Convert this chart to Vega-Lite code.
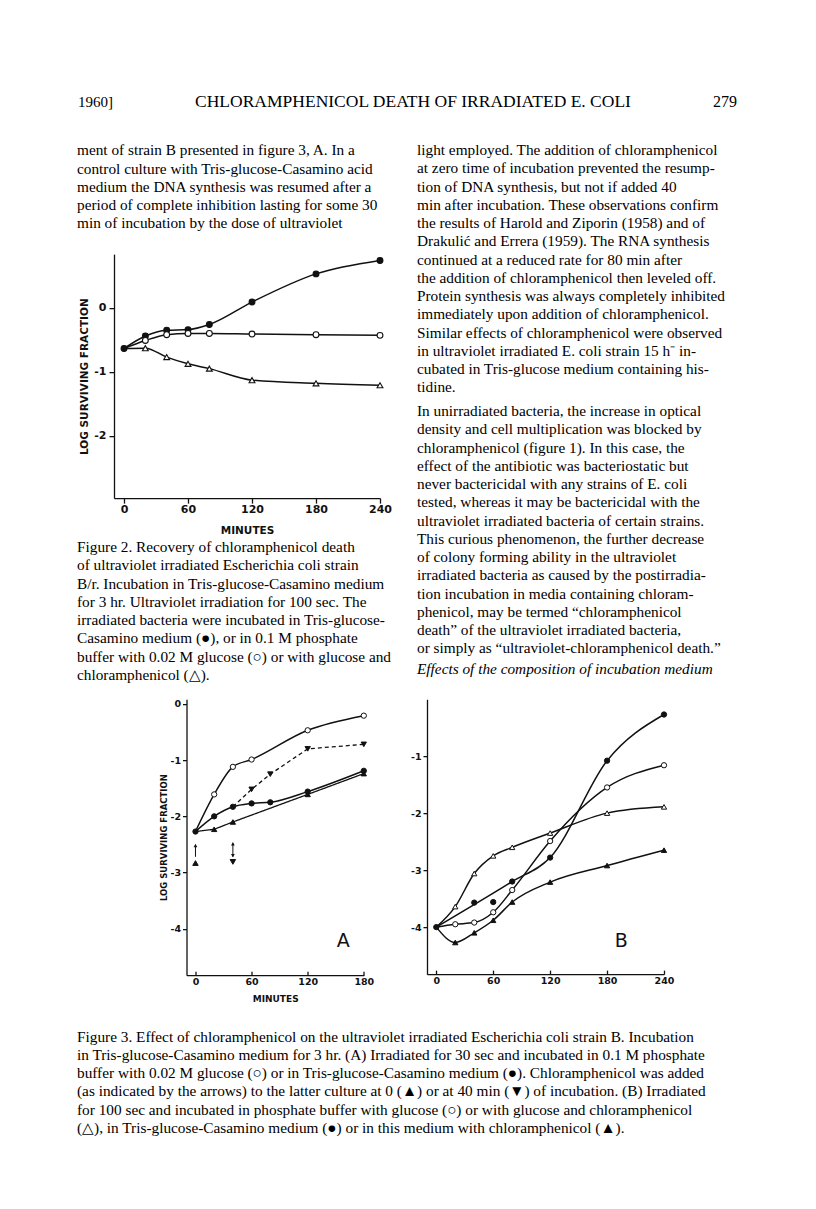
{
  "$schema": "https://vega.github.io/schema/vega-lite/v6.json",
  "background": "white",
  "padding": {"left": 77, "top": 63.125, "right": 0, "bottom": 0},
  "config": {
    "view": {"stroke": null},
    "axis": {"grid": false, "domainColor": "#111", "tickColor": "#111", "labelColor": "#111", "titleColor": "#111", "labelFont": "DejaVu Sans", "titleFont": "DejaVu Sans", "labelFontWeight": "bold", "titleFontWeight": "bold", "domainWidth": 1.3, "tickWidth": 1.3, "labelFlush": false, "labelOverlap": false}
  },
  "datasets": {
    "fig2": [
      {"series": "Tris-glucose-Casamino medium", "t": 0, "v": -0.635},
      {"series": "Tris-glucose-Casamino medium", "t": 20, "v": -0.44},
      {"series": "Tris-glucose-Casamino medium", "t": 40, "v": -0.35},
      {"series": "Tris-glucose-Casamino medium", "t": 60, "v": -0.34},
      {"series": "Tris-glucose-Casamino medium", "t": 80, "v": -0.26},
      {"series": "Tris-glucose-Casamino medium", "t": 120, "v": 0.09},
      {"series": "Tris-glucose-Casamino medium", "t": 180, "v": 0.53},
      {"series": "Tris-glucose-Casamino medium", "t": 240, "v": 0.74},
      {"series": "Phosphate buffer + glucose", "t": 0, "v": -0.635},
      {"series": "Phosphate buffer + glucose", "t": 20, "v": -0.51},
      {"series": "Phosphate buffer + glucose", "t": 40, "v": -0.42},
      {"series": "Phosphate buffer + glucose", "t": 60, "v": -0.4},
      {"series": "Phosphate buffer + glucose", "t": 80, "v": -0.4},
      {"series": "Phosphate buffer + glucose", "t": 120, "v": -0.41},
      {"series": "Phosphate buffer + glucose", "t": 180, "v": -0.42},
      {"series": "Phosphate buffer + glucose", "t": 240, "v": -0.43},
      {"series": "Glucose + chloramphenicol", "t": 0, "v": -0.635},
      {"series": "Glucose + chloramphenicol", "t": 20, "v": -0.63},
      {"series": "Glucose + chloramphenicol", "t": 40, "v": -0.77},
      {"series": "Glucose + chloramphenicol", "t": 60, "v": -0.875},
      {"series": "Glucose + chloramphenicol", "t": 80, "v": -0.95},
      {"series": "Glucose + chloramphenicol", "t": 120, "v": -1.13},
      {"series": "Glucose + chloramphenicol", "t": 180, "v": -1.18},
      {"series": "Glucose + chloramphenicol", "t": 240, "v": -1.21}
    ],
    "fig3a": [
      {"series": "Phosphate buffer + glucose", "t": 0, "v": -2.27},
      {"series": "Phosphate buffer + glucose", "t": 20, "v": -1.61},
      {"series": "Phosphate buffer + glucose", "t": 40, "v": -1.12},
      {"series": "Phosphate buffer + glucose", "t": 60, "v": -0.99},
      {"series": "Phosphate buffer + glucose", "t": 120, "v": -0.47},
      {"series": "Phosphate buffer + glucose", "t": 180, "v": -0.21},
      {"series": "Tris-glucose-Casamino medium", "t": 0, "v": -2.27},
      {"series": "Tris-glucose-Casamino medium", "t": 20, "v": -2.0},
      {"series": "Tris-glucose-Casamino medium", "t": 40, "v": -1.83},
      {"series": "Tris-glucose-Casamino medium", "t": 60, "v": -1.77},
      {"series": "Tris-glucose-Casamino medium", "t": 80, "v": -1.75},
      {"series": "Tris-glucose-Casamino medium", "t": 120, "v": -1.56},
      {"series": "Tris-glucose-Casamino medium", "t": 180, "v": -1.19},
      {"series": "Chloramphenicol at 0 min", "t": 0, "v": -2.27},
      {"series": "Chloramphenicol at 0 min", "t": 20, "v": -2.23},
      {"series": "Chloramphenicol at 0 min", "t": 40, "v": -2.1},
      {"series": "Chloramphenicol at 0 min", "t": 120, "v": -1.61},
      {"series": "Chloramphenicol at 0 min", "t": 180, "v": -1.24},
      {"series": "Chloramphenicol at 40 min", "t": 40, "v": -1.83},
      {"series": "Chloramphenicol at 40 min", "t": 60, "v": -1.52},
      {"series": "Chloramphenicol at 40 min", "t": 80, "v": -1.25},
      {"series": "Chloramphenicol at 40 min", "t": 120, "v": -0.8},
      {"series": "Chloramphenicol at 40 min", "t": 180, "v": -0.72}
    ],
    "adds3a": [
      {"series": "Chloramphenicol at 0 min", "t": 0, "v": -2.83},
      {"series": "Chloramphenicol at 40 min", "t": 40, "v": -2.81}
    ],
    "arrows3a": [
      {"t": 0, "v": -2.5, "v2": -2.72},
      {"t": 40, "v": -2.47, "v2": -2.72}
    ],
    "heads3a": [
      {"t": 0, "v": -2.52, "dir": "up"},
      {"t": 40, "v": -2.49, "dir": "up"},
      {"t": 40, "v": -2.7, "dir": "down"}
    ],
    "fig3b": [
      {"series": "Phosphate buffer + glucose", "t": 0, "v": -4.0},
      {"series": "Phosphate buffer + glucose", "t": 20, "v": -3.95},
      {"series": "Phosphate buffer + glucose", "t": 40, "v": -3.92},
      {"series": "Phosphate buffer + glucose", "t": 60, "v": -3.74},
      {"series": "Phosphate buffer + glucose", "t": 80, "v": -3.35},
      {"series": "Phosphate buffer + glucose", "t": 120, "v": -2.49},
      {"series": "Phosphate buffer + glucose", "t": 180, "v": -1.55},
      {"series": "Phosphate buffer + glucose", "t": 240, "v": -1.16},
      {"series": "Glucose + chloramphenicol", "t": 0, "v": -4.0},
      {"series": "Glucose + chloramphenicol", "t": 20, "v": -3.64},
      {"series": "Glucose + chloramphenicol", "t": 40, "v": -3.06},
      {"series": "Glucose + chloramphenicol", "t": 60, "v": -2.75},
      {"series": "Glucose + chloramphenicol", "t": 80, "v": -2.6},
      {"series": "Glucose + chloramphenicol", "t": 120, "v": -2.35},
      {"series": "Glucose + chloramphenicol", "t": 180, "v": -2.0},
      {"series": "Glucose + chloramphenicol", "t": 240, "v": -1.89},
      {"series": "Tris-glucose-Casamino medium", "t": 0, "v": -4.0},
      {"series": "Tris-glucose-Casamino medium", "t": 40, "v": -3.57},
      {"series": "Tris-glucose-Casamino medium", "t": 60, "v": -3.56},
      {"series": "Tris-glucose-Casamino medium", "t": 80, "v": -3.2},
      {"series": "Tris-glucose-Casamino medium", "t": 120, "v": -2.78},
      {"series": "Tris-glucose-Casamino medium", "t": 180, "v": -1.08},
      {"series": "Tris-glucose-Casamino medium", "t": 240, "v": -0.27},
      {"series": "Tris-glucose-Casamino + chloramphenicol", "t": 0, "v": -4.0},
      {"series": "Tris-glucose-Casamino + chloramphenicol", "t": 20, "v": -4.27},
      {"series": "Tris-glucose-Casamino + chloramphenicol", "t": 40, "v": -4.1},
      {"series": "Tris-glucose-Casamino + chloramphenicol", "t": 60, "v": -3.88},
      {"series": "Tris-glucose-Casamino + chloramphenicol", "t": 80, "v": -3.56},
      {"series": "Tris-glucose-Casamino + chloramphenicol", "t": 120, "v": -3.21},
      {"series": "Tris-glucose-Casamino + chloramphenicol", "t": 180, "v": -2.92},
      {"series": "Tris-glucose-Casamino + chloramphenicol", "t": 240, "v": -2.65}
    ]
  },
  "spacing": 0,
  "vconcat": [
    {
      "spacing": 0,
      "hconcat": [
        {"width": 37, "height": 77.75, "data": {"values": [{"text": "1960]"}]}, "mark": {"type": "text", "font": "Liberation Serif", "fontSize": 15, "color": "#000"}, "encoding": {"text": {"field": "text"}}},
        {"width": 598, "height": 77.75, "data": {"values": [{"text": "CHLORAMPHENICOL DEATH OF IRRADIATED E. COLI"}]}, "mark": {"type": "text", "font": "Liberation Serif", "fontSize": 17.5, "color": "#000"}, "encoding": {"text": {"field": "text"}}},
        {"width": 26, "height": 77.75, "data": {"values": [{"text": "279"}]}, "mark": {"type": "text", "font": "Liberation Serif", "fontSize": 16, "color": "#000"}, "encoding": {"text": {"field": "text"}}}
      ]
    },
    {
      "spacing": 20,
      "hconcat": [
        {
          "spacing": 0,
          "vconcat": [
            {
              "width": 320, "height": 112.125,
              "data": {"values": [
                {"line": 1, "text": "ment of strain B presented in figure 3, A. In a"},
                {"line": 2, "text": "control culture with Tris-glucose-Casamino acid"},
                {"line": 3, "text": "medium the DNA synthesis was resumed after a"},
                {"line": 4, "text": "period of complete inhibition lasting for some 30"},
                {"line": 5, "text": "min of incubation by the dose of ultraviolet"}
              ]},
              "mark": {"type": "text", "align": "left", "baseline": "middle", "font": "Liberation Serif", "fontSize": 15.3, "color": "#000"},
              "encoding": {
                "x": {"datum": 0, "type": "quantitative", "scale": {"domain": [0, 1]}, "axis": null},
                "y": {"field": "line", "type": "quantitative", "scale": {"domain": [0.5, 6.6438], "reverse": true, "nice": false, "zero": false}, "axis": null},
                "text": {"field": "text"}
              }
            },
            {
              "spacing": 1,
              "hconcat": [
                {"width": 1, "height": 10, "data": {"values": []}, "mark": "text", "encoding": {}},
                {
                  "width": 266, "height": 244,
                  "encoding": {
                    "x": {"field": "t", "type": "quantitative", "scale": {"domain": [-9.4, 240], "nice": false, "zero": false}, "axis": {"values": [0, 60, 120, 180, 240], "title": "MINUTES", "tickSize": 5, "labelPadding": 0, "labelFontSize": 11, "titleFontSize": 10.5, "titlePadding": 11}},
                    "y": {"field": "v", "type": "quantitative", "scale": {"domain": [-2.973, 0.839], "nice": false, "zero": false}, "axis": {"values": [0, -1, -2], "title": "LOG SURVIVING FRACTION", "tickSize": 5, "labelPadding": 3, "labelFontSize": 11, "titleFontSize": 10.5, "titlePadding": 4, "labelExpr": "'' + datum.value"}}
                  },
                  "layer": [
                    {"data": {"name": "fig2"}, "mark": {"type": "line", "interpolate": "monotone", "color": "#111", "strokeWidth": 1.5}, "encoding": {"detail": {"field": "series"}}},
                    {"data": {"name": "fig2"}, "transform": [{"filter": "datum.t > 0 || datum.series == 'Tris-glucose-Casamino medium'"}],
                     "mark": {"type": "point", "filled": true, "stroke": "#111", "strokeWidth": 1.1, "size": 34, "opacity": 1},
                     "encoding": {
                       "fill": {"field": "series", "type": "nominal", "scale": {"domain": ["Tris-glucose-Casamino medium", "Phosphate buffer + glucose", "Glucose + chloramphenicol", "Chloramphenicol at 0 min", "Chloramphenicol at 40 min", "Tris-glucose-Casamino + chloramphenicol"], "range": ["#111", "white", "white", "#111", "#111", "#111"]}, "legend": null},
                       "shape": {"field": "series", "type": "nominal", "scale": {"domain": ["Tris-glucose-Casamino medium", "Phosphate buffer + glucose", "Glucose + chloramphenicol", "Chloramphenicol at 0 min", "Chloramphenicol at 40 min", "Tris-glucose-Casamino + chloramphenicol"], "range": ["circle", "circle", "triangle-up", "triangle-up", "triangle-down", "triangle-up"]}, "legend": null}
                     }}
                  ]
                }
              ]
            },
            {
              "width": 320, "height": 150,
              "data": {"values": [
                {"line": 1, "text": "\u2003Figure 2. Recovery of chloramphenicol death"},
                {"line": 2, "text": "of ultraviolet irradiated Escherichia coli strain"},
                {"line": 3, "text": "B/r. Incubation in Tris-glucose-Casamino medium"},
                {"line": 4, "text": "for 3 hr. Ultraviolet irradiation for 100 sec. The"},
                {"line": 5, "text": "irradiated bacteria were incubated in Tris-glucose-"},
                {"line": 6, "text": "Casamino medium (●), or in 0.1 M phosphate"},
                {"line": 7, "text": "buffer with 0.02 M glucose (○) or with glucose and"},
                {"line": 8, "text": "chloramphenicol (△)."}
              ]},
              "mark": {"type": "text", "align": "left", "baseline": "middle", "font": "Liberation Serif", "fontSize": 15.3, "color": "#000"},
              "encoding": {
                "x": {"datum": 0, "type": "quantitative", "scale": {"domain": [0, 1]}, "axis": null},
                "y": {"field": "line", "type": "quantitative", "scale": {"domain": [0.4, 8.619], "reverse": true, "nice": false, "zero": false}, "axis": null},
                "text": {"field": "text"}
              }
            }
          ]
        },
        {
          "spacing": 0,
          "vconcat": [
            {
              "width": 321, "height": 261,
              "data": {"values": [
                {"line": 1, "text": "light employed. The addition of chloramphenicol"},
                {"line": 2, "text": "at zero time of incubation prevented the resump-"},
                {"line": 3, "text": "tion of DNA synthesis, but not if added 40"},
                {"line": 4, "text": "min after incubation. These observations confirm"},
                {"line": 5, "text": "the results of Harold and Ziporin (1958) and of"},
                {"line": 6, "text": "Drakulić and Errera (1959). The RNA synthesis"},
                {"line": 7, "text": "continued at a reduced rate for 80 min after"},
                {"line": 8, "text": "the addition of chloramphenicol then leveled off."},
                {"line": 9, "text": "Protein synthesis was always completely inhibited"},
                {"line": 10, "text": "immediately upon addition of chloramphenicol."},
                {"line": 11, "text": "Similar effects of chloramphenicol were observed"},
                {"line": 12, "text": "in ultraviolet irradiated E. coli strain 15 h⁻ in-"},
                {"line": 13, "text": "cubated in Tris-glucose medium containing his-"},
                {"line": 14, "text": "tidine."}
              ]},
              "mark": {"type": "text", "align": "left", "baseline": "middle", "font": "Liberation Serif", "fontSize": 15.3, "color": "#000"},
              "encoding": {
                "x": {"datum": 0, "type": "quantitative", "scale": {"domain": [0, 1]}, "axis": null},
                "y": {"field": "line", "type": "quantitative", "scale": {"domain": [0.5, 14.8014], "reverse": true, "nice": false, "zero": false}, "axis": null},
                "text": {"field": "text"}
              }
            },
            {
              "width": 321, "height": 258,
              "data": {"values": [
                {"line": 1, "text": "\u2003In unirradiated bacteria, the increase in optical"},
                {"line": 2, "text": "density and cell multiplication was blocked by"},
                {"line": 3, "text": "chloramphenicol (figure 1). In this case, the"},
                {"line": 4, "text": "effect of the antibiotic was bacteriostatic but"},
                {"line": 5, "text": "never bactericidal with any strains of E. coli"},
                {"line": 6, "text": "tested, whereas it may be bactericidal with the"},
                {"line": 7, "text": "ultraviolet irradiated bacteria of certain strains."},
                {"line": 8, "text": "This curious phenomenon, the further decrease"},
                {"line": 9, "text": "of colony forming ability in the ultraviolet"},
                {"line": 10, "text": "irradiated bacteria as caused by the postirradia-"},
                {"line": 11, "text": "tion incubation in media containing chloram-"},
                {"line": 12, "text": "phenicol, may be termed “chloramphenicol"},
                {"line": 13, "text": "death” of the ultraviolet irradiated bacteria,"},
                {"line": 14, "text": "or simply as “ultraviolet-chloramphenicol death.”"}
              ]},
              "mark": {"type": "text", "align": "left", "baseline": "middle", "font": "Liberation Serif", "fontSize": 15.3, "color": "#000"},
              "encoding": {
                "x": {"datum": 0, "type": "quantitative", "scale": {"domain": [0, 1]}, "axis": null},
                "y": {"field": "line", "type": "quantitative", "scale": {"domain": [0.5, 14.637], "reverse": true, "nice": false, "zero": false}, "axis": null},
                "text": {"field": "text"}
              }
            },
            {
              "width": 321, "height": 37.125,
              "data": {"values": [
                {"line": 1, "text": "\u2003Effects of the composition of incubation medium"}
              ]},
              "mark": {"type": "text", "align": "left", "baseline": "middle", "font": "Liberation Serif", "fontSize": 15.3, "fontStyle": "italic", "color": "#000"},
              "encoding": {
                "x": {"datum": 0, "type": "quantitative", "scale": {"domain": [0, 1]}, "axis": null},
                "y": {"field": "line", "type": "quantitative", "scale": {"domain": [0.5, 2.534], "reverse": true, "nice": false, "zero": false}, "axis": null},
                "text": {"field": "text"}
              }
            }
          ]
        }
      ]
    },
    {
      "spacing": 35.5,
      "hconcat": [
        {"width": 47, "height": 10, "data": {"values": []}, "mark": "text", "encoding": {}},
        {
          "width": 177.3, "height": 276,
          "encoding": {
            "x": {"field": "t", "type": "quantitative", "scale": {"domain": [-9.6, 180], "nice": false, "zero": false}, "axis": {"values": [0, 60, 120, 180], "title": "MINUTES", "tickSize": -4, "labelPadding": 5, "labelFontSize": 9.5, "titleFontSize": 9, "titlePadding": 9}},
            "y": {"field": "v", "type": "quantitative", "scale": {"domain": [-4.823, 0.084], "nice": false, "zero": false}, "axis": {"values": [0, -1, -2, -3, -4], "title": "LOG SURVIVING FRACTION", "tickSize": 4, "labelPadding": 2, "labelFontSize": 9.5, "titleFontSize": 8.5, "titlePadding": 1, "labelExpr": "'' + datum.value"}}
          },
          "layer": [
            {"data": {"name": "fig3a"}, "transform": [{"filter": "datum.series == 'Phosphate buffer + glucose' || datum.series == 'Tris-glucose-Casamino medium'"}],
             "mark": {"type": "line", "interpolate": "monotone", "color": "#111", "strokeWidth": 1.5}, "encoding": {"detail": {"field": "series"}}},
            {"data": {"name": "fig3a"}, "transform": [{"filter": "datum.series == 'Chloramphenicol at 0 min' || datum.series == 'Chloramphenicol at 40 min'"}],
             "mark": {"type": "line", "interpolate": "linear", "color": "#111", "strokeWidth": 1.3},
             "encoding": {"detail": {"field": "series"}, "strokeDash": {"field": "series", "type": "nominal", "scale": {"domain": ["Chloramphenicol at 0 min", "Chloramphenicol at 40 min"], "range": [[1, 0], [4, 3]]}, "legend": null}}},
            {"data": {"name": "arrows3a"}, "mark": {"type": "rule", "color": "#111", "strokeWidth": 1}, "encoding": {"y2": {"field": "v2"}}},
            {"data": {"name": "heads3a"}, "transform": [{"filter": "datum.dir == 'up'"}], "mark": {"type": "point", "shape": "triangle-up", "filled": true, "color": "#111", "size": 14, "opacity": 1}},
            {"data": {"name": "heads3a"}, "transform": [{"filter": "datum.dir == 'down'"}], "mark": {"type": "point", "shape": "triangle-down", "filled": true, "color": "#111", "size": 14, "opacity": 1}},
            {"data": {"name": "fig3a"}, "transform": [{"filter": "(datum.t > 0 || datum.series == 'Tris-glucose-Casamino medium') && !(datum.series == 'Chloramphenicol at 40 min' && datum.t == 40)"}],
             "mark": {"type": "point", "filled": true, "stroke": "#111", "strokeWidth": 1, "size": 28, "opacity": 1},
             "encoding": {
               "fill": {"field": "series", "type": "nominal", "scale": {"domain": ["Tris-glucose-Casamino medium", "Phosphate buffer + glucose", "Glucose + chloramphenicol", "Chloramphenicol at 0 min", "Chloramphenicol at 40 min", "Tris-glucose-Casamino + chloramphenicol"], "range": ["#111", "white", "white", "#111", "#111", "#111"]}, "legend": null},
               "shape": {"field": "series", "type": "nominal", "scale": {"domain": ["Tris-glucose-Casamino medium", "Phosphate buffer + glucose", "Glucose + chloramphenicol", "Chloramphenicol at 0 min", "Chloramphenicol at 40 min", "Tris-glucose-Casamino + chloramphenicol"], "range": ["circle", "circle", "triangle-up", "triangle-up", "triangle-down", "triangle-up"]}, "legend": null}
             }},
            {"data": {"name": "adds3a"},
             "mark": {"type": "point", "filled": true, "stroke": "#111", "strokeWidth": 1, "size": 30, "opacity": 1},
             "encoding": {
               "fill": {"field": "series", "type": "nominal", "scale": {"domain": ["Tris-glucose-Casamino medium", "Phosphate buffer + glucose", "Glucose + chloramphenicol", "Chloramphenicol at 0 min", "Chloramphenicol at 40 min", "Tris-glucose-Casamino + chloramphenicol"], "range": ["#111", "white", "white", "#111", "#111", "#111"]}, "legend": null},
               "shape": {"field": "series", "type": "nominal", "scale": {"domain": ["Tris-glucose-Casamino medium", "Phosphate buffer + glucose", "Glucose + chloramphenicol", "Chloramphenicol at 0 min", "Chloramphenicol at 40 min", "Tris-glucose-Casamino + chloramphenicol"], "range": ["circle", "circle", "triangle-up", "triangle-up", "triangle-down", "triangle-up"]}, "legend": null}
             }},
            {"data": {"values": [{"t": 158, "v": -4.21, "label": "A"}]}, "mark": {"type": "text", "font": "DejaVu Sans", "fontSize": 19, "color": "#111"}, "encoding": {"text": {"field": "label"}}}
          ]
        },
        {
          "width": 237, "height": 275,
          "encoding": {
            "x": {"field": "t", "type": "quantitative", "scale": {"domain": [-9.8, 240], "nice": false, "zero": false}, "axis": {"values": [0, 60, 120, 180, 240], "title": null, "tickSize": -4, "labelPadding": 5, "labelFontSize": 9.5}},
            "y": {"field": "v", "type": "quantitative", "scale": {"domain": [-4.825, 0], "nice": false, "zero": false}, "axis": {"values": [-1, -2, -3, -4], "title": null, "tickSize": 4, "labelPadding": 2, "labelFontSize": 9.5, "labelExpr": "'' + datum.value"}}
          },
          "layer": [
            {"data": {"name": "fig3b"}, "transform": [{"filter": "!(datum.series == 'Tris-glucose-Casamino medium' && (datum.t == 40 || datum.t == 60))"}],
             "mark": {"type": "line", "interpolate": "monotone", "color": "#111", "strokeWidth": 1.5}, "encoding": {"detail": {"field": "series"}}},
            {"data": {"name": "fig3b"}, "transform": [{"filter": "datum.t > 0 || datum.series == 'Tris-glucose-Casamino medium'"}],
             "mark": {"type": "point", "filled": true, "stroke": "#111", "strokeWidth": 1, "size": 28, "opacity": 1},
             "encoding": {
               "fill": {"field": "series", "type": "nominal", "scale": {"domain": ["Tris-glucose-Casamino medium", "Phosphate buffer + glucose", "Glucose + chloramphenicol", "Chloramphenicol at 0 min", "Chloramphenicol at 40 min", "Tris-glucose-Casamino + chloramphenicol"], "range": ["#111", "white", "white", "#111", "#111", "#111"]}, "legend": null},
               "shape": {"field": "series", "type": "nominal", "scale": {"domain": ["Tris-glucose-Casamino medium", "Phosphate buffer + glucose", "Glucose + chloramphenicol", "Chloramphenicol at 0 min", "Chloramphenicol at 40 min", "Tris-glucose-Casamino + chloramphenicol"], "range": ["circle", "circle", "triangle-up", "triangle-up", "triangle-down", "triangle-up"]}, "legend": null}
             }},
            {"data": {"values": [{"t": 195, "v": -4.24, "label": "B"}]}, "mark": {"type": "text", "font": "DejaVu Sans", "fontSize": 19, "color": "#111"}, "encoding": {"text": {"field": "label"}}}
          ]
        }
      ]
    },
    {
      "width": 661, "height": 138,
      "data": {"values": [
        {"line": 1, "text": "\u2003Figure 3. Effect of chloramphenicol on the ultraviolet irradiated Escherichia coli strain B. Incubation"},
        {"line": 2, "text": "in Tris-glucose-Casamino medium for 3 hr. (A) Irradiated for 30 sec and incubated in 0.1 M phosphate"},
        {"line": 3, "text": "buffer with 0.02 M glucose (○) or in Tris-glucose-Casamino medium (●). Chloramphenicol was added"},
        {"line": 4, "text": "(as indicated by the arrows) to the latter culture at 0 (▲) or at 40 min (▼) of incubation. (B) Irradiated"},
        {"line": 5, "text": "for 100 sec and incubated in phosphate buffer with glucose (○) or with glucose and chloramphenicol"},
        {"line": 6, "text": "(△), in Tris-glucose-Casamino medium (●) or in this medium with chloramphenicol (▲)."}
      ]},
      "mark": {"type": "text", "align": "left", "baseline": "middle", "font": "Liberation Serif", "fontSize": 15.3, "color": "#000"},
      "encoding": {
        "x": {"datum": 0, "type": "quantitative", "scale": {"domain": [0, 1]}, "axis": null},
        "y": {"field": "line", "type": "quantitative", "scale": {"domain": [-0.78, 6.782], "reverse": true, "nice": false, "zero": false}, "axis": null},
        "text": {"field": "text"}
      }
    }
  ]
}
